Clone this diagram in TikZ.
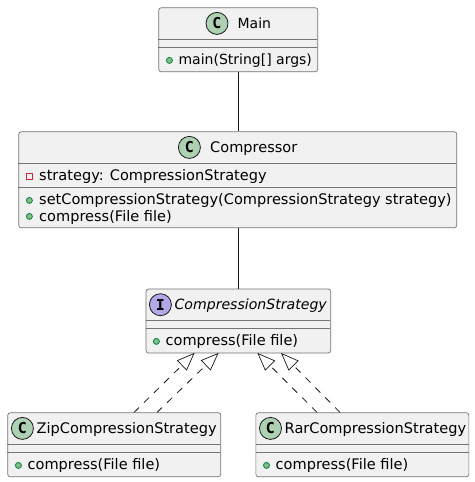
\documentclass[tikz,border=0pt]{standalone}
\usepackage{fontspec}
\setmainfont{DejaVu Sans}
\newfontfamily\iconfont{DejaVu Sans Mono}[BoldFont={DejaVu Sans Mono Bold}]
\usetikzlibrary{arrows.meta}
\definecolor{boxfill}{HTML}{F1F1F1}
\definecolor{boxline}{HTML}{181818}
\definecolor{iconC}{HTML}{ADD1B2}
\definecolor{iconI}{HTML}{B4A7E5}
\definecolor{pubfill}{HTML}{84BE84}
\definecolor{publine}{HTML}{038048}
\definecolor{privline}{HTML}{C82930}
\tikzset{
  x=1pt,y=-1pt,
  classbox/.style={draw=boxline!60,fill=boxfill,line width=.7pt,rounded corners=2.5pt,inner sep=0pt,anchor=north west},
  sepline/.style={draw=boxline!60,line width=.7pt},
  lbl/.style={inner sep=0pt,anchor=base west,font=\fontsize{14.55}{16}\selectfont,text=black},
  lblsmall/.style={lbl,font=\fontsize{14}{16}\selectfont},
  icon/.style={circle,draw=boxline,line width=.8pt,minimum size=22pt,inner sep=0pt,font=\iconfont\fontsize{15}{15}\selectfont\bfseries,text=black},
  pub/.style={circle,draw=publine,fill=pubfill,line width=.8pt,minimum size=6pt,inner sep=0pt},
  priv/.style={rectangle,draw=privline,line width=.8pt,minimum size=6pt,inner sep=0pt},
  assoc/.style={draw=boxline,line width=.8pt},
  realize/.style={draw=boxline,line width=.8pt,dash pattern=on 7pt off 7pt,-{Triangle[open,length=18pt,width=14pt,line width=.7pt]}},
}
\newcommand{\classnode}[5]{\node[classbox,minimum width=#4 pt,minimum height=#5 pt] (#1) at (#2,#3) {};}
\begin{document}
\begin{tikzpicture}
\useasboundingbox (0,0) rectangle (474,482);
\fill[white] (0,0) rectangle (474,482);
\classnode{main}{158.4}{7.4}{159}{64}
\classnode{comp}{18.4}{131.4}{438}{96}
\classnode{strat}{145.7}{288.7}{184.6}{64}
\classnode{zip}{7.4}{412.4}{213}{64}
\classnode{rar}{255.5}{412.4}{213}{64}
\draw[assoc] (main.south) -- (main.south |- comp.north);
\draw[assoc] (main.south |- comp.south) -- (main.south |- strat.north);
\coordinate (zipa) at (134,412.4);
\coordinate (zipb) at (157,412.4);
\coordinate (rara) at (317,412.4);
\coordinate (rarb) at (340,412.4);
\coordinate (sa) at (194.6,352.9);
\coordinate (sb) at (218.6,352.9);
\coordinate (sc) at (257.4,352.9);
\coordinate (sd) at (281,352.9);
\draw[realize] (zipa) -- (sa);
\draw[realize] (zipb) -- (sb);
\draw[realize] (rara) -- (sc);
\draw[realize] (rarb) -- (sd);
% Main
\draw[sepline] (158.4,39.4) -- (317.4,39.4) (158.4,47.4) -- (317.4,47.4);
\node[icon,fill=iconC] (iconmain) at (217,23.4) {C};
\node[lblsmall] (tmain) at (237.4,28.4) {Main};
\node[pub] (pmain) at (169.4,60.4) {};
\node[lblsmall] (mmain) at (178.4,64.4) {main(String[] args)};
% Compressor
\draw[sepline] (18.4,163.4) -- (456.4,163.4) (18.4,187.4) -- (456.4,187.4);
\node[icon,fill=iconC] (iconcomp) at (189.4,147.4) {C};
\node[lbl] (tcomp) at (210,152.4) {Compressor};
\node[priv] (pcomp) at (29.4,176.4) {};
\node[lbl] (acomp) at (39,180.4) {strategy: CompressionStrategy};
\node[pub] (pcompa) at (29.4,200.4) {};
\node[lbl] (mcompa) at (39,204.4) {setCompressionStrategy(CompressionStrategy strategy)};
\node[pub] (pcompb) at (29.4,216.4) {};
\node[lbl] (mcompb) at (39,221.4) {compress(File file)};
% Strategy
\draw[sepline] (145.7,320.7) -- (330.3,320.7) (145.7,328.7) -- (330.3,328.7);
\node[icon,fill=iconI] (iconstrat) at (160.4,304.7) {I};
\node[lbl,font=\fontsize{14.1}{16}\selectfont\itshape] (tstrat) at (174.4,309.4) {CompressionStrategy};
\node[pub] (pstrat) at (156.4,341.4) {};
\node[lbl] (mstrat) at (165.4,345.4) {compress(File file)};
% Zip
\draw[sepline] (7.4,444.4) -- (220.4,444.4) (7.4,452.4) -- (220.4,452.4);
\node[icon,fill=iconC] (iconzip) at (22.4,428.4) {C};
\node[lbl] (tzip) at (36.4,433.4) {ZipCompressionStrategy};
\node[pub] (pzip) at (18.4,465.4) {};
\node[lbl] (mzip) at (27.4,469.4) {compress(File file)};
% Rar
\draw[sepline] (255.5,444.4) -- (468.5,444.4) (255.5,452.4) -- (468.5,452.4);
\node[icon,fill=iconC] (iconrar) at (270.5,428.4) {C};
\node[lbl] (trar) at (284.5,433.4) {RarCompressionStrategy};
\node[pub] (prar) at (266.5,465.4) {};
\node[lbl] (mrar) at (275.5,469.4) {compress(File file)};
\end{tikzpicture}
\end{document}
